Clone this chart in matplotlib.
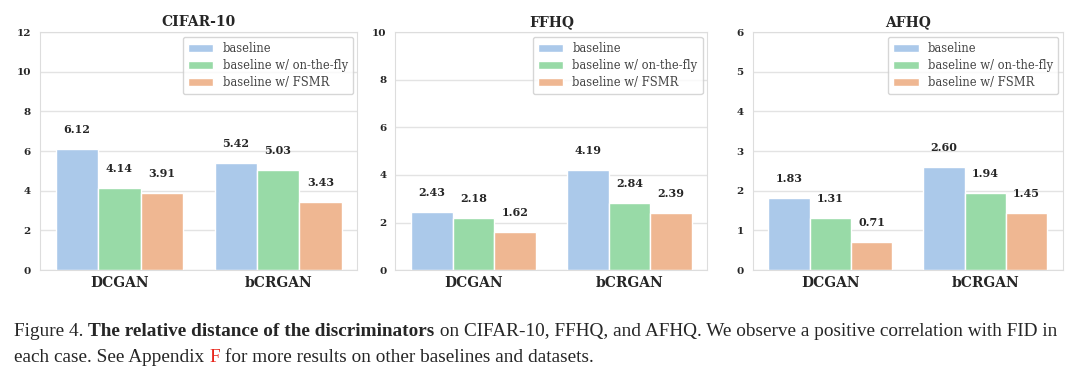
import numpy as np
import matplotlib
matplotlib.use("Agg")
import matplotlib.pyplot as plt
import seaborn as sns

datasets = ["CIFAR-10", "FFHQ", "AFHQ"]
models = ["DCGAN", "bCRGAN"]
methods = ["baseline", "baseline w/ on-the-fly", "baseline w/ FSMR"]
values = {
    "CIFAR-10": [[6.12, 5.42], [4.14, 5.03], [3.91, 3.43]],
    "FFHQ": [[2.43, 4.19], [2.18, 2.84], [1.62, 2.39]],
    "AFHQ": [[1.83, 2.60], [1.31, 1.94], [0.71, 1.45]],
}
ylims = {"CIFAR-10": (12, 2), "FFHQ": (10, 2), "AFHQ": (6, 1)}

sns.set_style("whitegrid")
plt.rcParams["font.family"] = ["DejaVu Serif"]
pal = sns.color_palette("pastel", desat=0.75)
colors = [pal[0], pal[2], pal[1]]

fig = plt.figure(figsize=(10.8, 3.81), dpi=100)
boxes = [(0.037, 0.331), (0.366, 0.655), (0.697, 0.984)]
bottom, top = 0.291, 0.916

w = 0.8 / 3
x = np.arange(len(models))
for (l, r), name in zip(boxes, datasets):
    ax = fig.add_axes([l, bottom, r - l, top - bottom])
    for i, m in enumerate(methods):
        vals = values[name][i]
        pos = x - 0.4 + w / 2 + i * w
        ax.bar(pos, vals, w, color=colors[i], edgecolor="white", linewidth=1, label=m)
        for px, v in zip(pos, vals):
            ax.annotate(f"{v:.2f}", (px, v), xytext=(0, 14), textcoords="offset points",
                        ha="center", va="center", fontsize=8, fontweight="bold")
    ymax, step = ylims[name]
    ax.set_ylim(0, ymax)
    ax.set_yticks(np.arange(0, ymax + step / 2, step))
    ax.set_xlim(-0.5, 1.5)
    ax.set_xticks(x)
    ax.set_xticklabels(models, fontsize=10, fontweight="bold")
    ax.tick_params(axis="y", labelsize=7.5, pad=3)
    ax.tick_params(axis="x", pad=1)
    for lab in ax.get_yticklabels():
        lab.set_fontweight("bold")
    ax.grid(axis="x", visible=False)
    ax.grid(axis="y", color="#e3e3e3", linewidth=1)
    for s in ax.spines.values():
        s.set_color("#dddddd")
    ax.set_title(name, fontsize=10, fontweight="bold", pad=4)
    leg = ax.legend(loc="upper right", fontsize=8.3, frameon=True, borderaxespad=0.4,
                    handlelength=2.2, labelspacing=0.35, borderpad=0.45)
    for t in leg.get_texts():
        t.set_color("#444444")

# caption with mixed styles
def write_line(parts, x0, y0):
    renderer = fig.canvas.get_renderer()
    xp = x0
    for txt, kw in parts:
        t = fig.text(xp, y0, txt, fontsize=13.9, family="Liberation Serif", va="baseline", **kw)
        bb = t.get_window_extent(renderer=renderer)
        xp += bb.width / fig.bbox.width

write_line([("Figure 4. ", {}),
            ("The relative distance of the discriminators", {"fontweight": "bold"}),
            (" on CIFAR-10, FFHQ, and AFHQ. We observe a positive correlation with FID in", {})],
           0.013, 1 - 336 / 381)
write_line([("each case. See Appendix ", {}),
            ("F", {"color": "#e8261c"}),
            (" for more results on other baselines and datasets.", {})],
           0.013, 1 - 362 / 381)

fig.savefig("out.png", dpi=100)
